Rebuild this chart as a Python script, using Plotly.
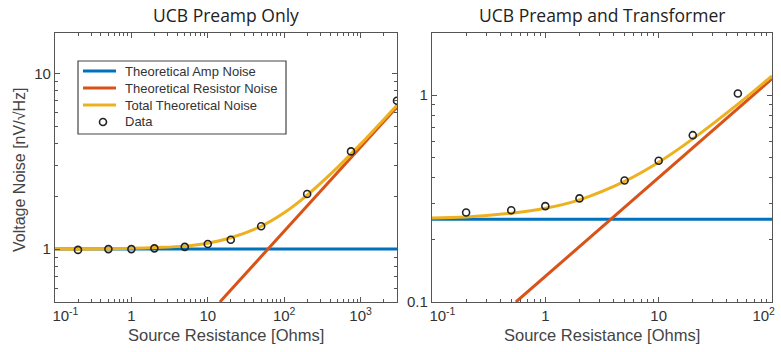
import math
import plotly.graph_objects as go

# ---------------- data ----------------
# Left panel: UCB Preamp Only
L_amp_R = [0.1, 3000]
L_amp_V = [1.0, 1.0]
L_res_R = [14.4, 3000]
L_res_V = [0.5, 6.45]
L_tot_R = [0.1, 0.3, 1, 2, 5, 10, 20, 50, 100, 200, 500, 1000, 3000]
L_tot_V = [1.0, 1.0, 1.01, 1.02, 1.04, 1.08, 1.16, 1.35, 1.61, 2.03, 2.92, 3.96, 6.6]
L_dat_R = [0.2, 0.5, 1, 2, 5, 10, 20, 50, 200, 750, 3000]
L_dat_V = [0.99, 1.0, 1.0, 1.01, 1.03, 1.07, 1.13, 1.35, 2.06, 3.6, 7.0]

# Right panel: UCB Preamp and Transformer
R_amp_R = [0.1, 100]
R_amp_V = [0.251, 0.251]
R_res_R = [0.55, 100]
R_res_V = [0.1, 1.2]
R_tot_R = [0.1, 0.2, 0.5, 1, 2, 5, 10, 20, 50, 100]
R_tot_V = [0.255, 0.258, 0.269, 0.284, 0.312, 0.383, 0.474, 0.615, 0.906, 1.24]
R_dat_R = [0.2, 0.5, 1, 2, 5, 10, 20, 50]
R_dat_V = [0.271, 0.278, 0.291, 0.317, 0.387, 0.482, 0.641, 1.02]

NB = "\u00a0"
L_xtick_vals = [0.1, 1, 10, 100, 1000]
L_xtick_text = [NB * 5 + "10<sup>-1</sup>", "1", "10", "10<sup>2</sup>", "10<sup>3</sup>"]
L_ytick_vals = [1, 10]
L_ytick_text = ["1", "10"]
R_xtick_vals = [0.1, 1, 10, 100]
R_xtick_text = [NB * 5 + "10<sup>-1</sup>", "1", "10", "10<sup>2</sup>" + NB * 4]
R_ytick_vals = [0.1, 1]
R_ytick_text = ["0.1", "1"]

titles = ["UCB Preamp Only", "UCB Preamp and Transformer"]
xlabel = "Source Resistance [Ohms]"
ylabel = "Voltage Noise [nV/√Hz]"
names = ["Theoretical Amp Noise", "Theoretical Resistor Noise",
         "Total Theoretical Noise", "Data"]

BLUE = "#0072BD"
RED = "#D95319"
YEL = "#EDB120"
AX = "#555555"
MK = "#222222"
FONT = "Liberation Sans, Arial, sans-serif"
TFONT = "Open Sans, sans-serif"

fig = go.Figure()


def add_panel(xa, ya, amp, res, tot, dat):
    fig.add_trace(go.Scatter(x=amp[0], y=amp[1], mode="lines", name=names[0],
                             line=dict(color=BLUE, width=3), xaxis=xa, yaxis=ya))
    fig.add_trace(go.Scatter(x=res[0], y=res[1], mode="lines", name=names[1],
                             line=dict(color=RED, width=3), xaxis=xa, yaxis=ya))
    fig.add_trace(go.Scatter(x=tot[0], y=tot[1], mode="lines", name=names[2],
                             line=dict(color=YEL, width=3, shape="spline"),
                             xaxis=xa, yaxis=ya))
    fig.add_trace(go.Scatter(x=dat[0], y=dat[1], mode="markers", name=names[3],
                             marker=dict(symbol="circle-open", size=7,
                                         color=MK, line=dict(width=1.6)),
                             xaxis=xa, yaxis=ya))


add_panel("x", "y", (L_amp_R, L_amp_V), (L_res_R, L_res_V),
          (L_tot_R, L_tot_V), (L_dat_R, L_dat_V))
add_panel("x2", "y2", (R_amp_R, R_amp_V), (R_res_R, R_res_V),
          (R_tot_R, R_tot_V), (R_dat_R, R_dat_V))


def axis(rng, tv, tt, domain, anchor):
    return dict(type="log", range=rng, domain=domain, anchor=anchor,
                automargin=False,
                tickvals=tv, ticktext=tt, ticks="inside", ticklen=5,
                tickcolor=AX, showline=True, linecolor=AX, linewidth=1.3,
                mirror="ticks", showgrid=False, zeroline=False,
                ticklabeloverflow="allow",
                tickfont=dict(family=FONT, size=15, color="#333333"),
                minor=dict(ticks="inside", ticklen=2.5, tickcolor=AX,
                           dtick="D1", showgrid=False))


W, H = 781, 352
ml, mr, mt, mb = 55, 9, 33, 50
pw = W - ml - mr
ph = H - mt - mb
d1 = [0, (397 - ml) / pw]
d2 = [(432 - ml) / pw, 1]


def px(x):
    return (x - ml) / pw


def py(y):
    return (H - mb - y) / ph


fig.update_layout(
    width=W, height=H, margin=dict(l=ml, r=mr, t=mt, b=mb, autoexpand=False),
    paper_bgcolor="white", plot_bgcolor="white",
    font=dict(family=FONT, color="#333333"),
    xaxis=axis([-1, math.log10(3000)], L_xtick_vals, L_xtick_text, d1, "y"),
    yaxis=axis([math.log10(0.5), math.log10(17)], L_ytick_vals, L_ytick_text, [0, 1], "x"),
    xaxis2=axis([-1, 2], R_xtick_vals, R_xtick_text, d2, "y2"),
    yaxis2=axis([-1, math.log10(2)], R_ytick_vals, R_ytick_text, [0, 1], "x2"),
    showlegend=False,
)

ann = [
    dict(text=titles[0], x=(d1[0] + d1[1]) / 2, y=py(15),
         font=dict(family=TFONT, size=17.5, color="#222222")),
    dict(text=titles[1], x=(d2[0] + d2[1]) / 2, y=py(15),
         font=dict(family=TFONT, size=17.5, color="#222222")),
    dict(text=xlabel, x=(d1[0] + d1[1]) / 2, y=py(335),
         font=dict(family=FONT, size=16.5, color="#444444")),
    dict(text=xlabel, x=(d2[0] + d2[1]) / 2, y=py(335),
         font=dict(family=FONT, size=16.5, color="#444444")),
    dict(text=ylabel, x=px(19), y=py(170), textangle=-90,
         font=dict(family=FONT, size=16, color="#444444")),
]

# ---- legend box (left panel), drawn as decoration ----
shapes = [dict(type="rect", xref="paper", yref="paper",
               x0=px(78), x1=px(286), y0=py(134), y1=py(61),
               line=dict(color="#444444", width=1.2), fillcolor="white", layer="above")]
leg_y = [71, 88, 105, 122]
leg_col = [BLUE, RED, YEL]
for i, nm in enumerate(names):
    yy = py(leg_y[i])
    if i < 3:
        shapes.append(dict(type="line", xref="paper", yref="paper",
                           x0=px(83), x1=px(116), y0=yy, y1=yy,
                           line=dict(color=leg_col[i], width=3), layer="above"))
    else:
        shapes.append(dict(type="circle", xref="paper", yref="paper",
                           x0=px(99.5), x1=px(106.5), y0=py(leg_y[i] + 3.5),
                           y1=py(leg_y[i] - 3.5),
                           line=dict(color=MK, width=1.6), layer="above"))
    ann.append(dict(text=nm, x=px(123), y=yy, xanchor="left",
                    font=dict(family=FONT, size=13, color="#333333")))

for a in ann:
    a.setdefault("xanchor", "center")
    a.update(xref="paper", yref="paper", showarrow=False, yanchor="middle")

fig.update_layout(annotations=ann, shapes=shapes)

fig.write_html("out.html")
